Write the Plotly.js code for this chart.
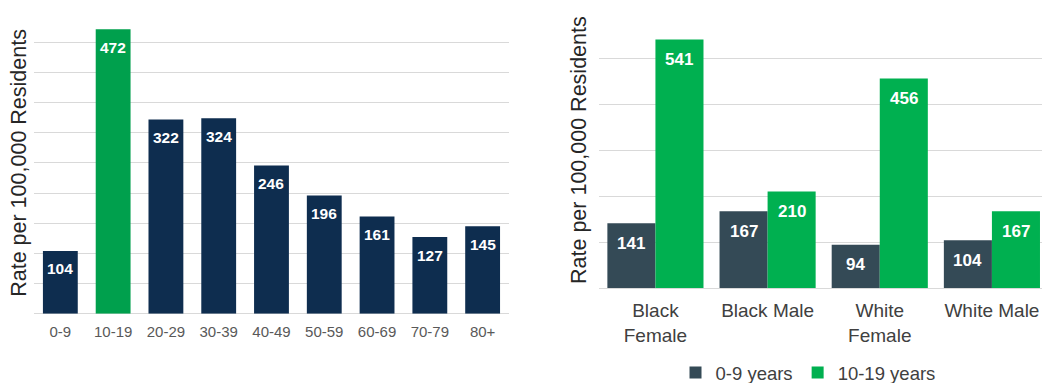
<!DOCTYPE html>
<html>
<head>
<meta charset="utf-8">
<script src="https://cdn.plot.ly/plotly-3.0.1.min.js"></script>
<style>
html, body { margin: 0; padding: 0; overflow: hidden; background: #fff; }
#chart { width: 1048px; height: 383px; }
</style>
</head>
<body>
<div id="chart"></div>
<script>
// Left chart: rate by age group
const ageGroups = ['0-9', '10-19', '20-29', '30-39', '40-49', '50-59', '60-69', '70-79', '80+'];
const ageRates = [104, 472, 322, 324, 246, 196, 161, 127, 145];
const highlightAge = '10-19';

// Right chart: rate by race/sex for two youth age groups
const groups = ['Black<br>Female', 'Black Male', 'White<br>Female', 'White Male'];
const series0to9 = [141, 167, 94, 104];
const series10to19 = [541, 210, 456, 167];
const seriesNames = ['0-9 years', '10-19 years'];

const navy = '#0E2D4F', greenL = '#00A04D';
const slate = '#344A56', greenR = '#00B050';
const font = 'Liberation Sans, Arial, sans-serif';

const leftBarWidth = 0.66;
const rightBargap = 0.143;

const traces = [
  {
    type: 'bar', x: ageGroups, y: ageRates, xaxis: 'x', yaxis: 'y',
    width: leftBarWidth,
    marker: { color: ageGroups.map(g => g === highlightAge ? greenL : navy) },
    showlegend: false, hoverinfo: 'x+y'
  },
  {
    type: 'bar', name: seriesNames[0], x: groups, y: series0to9, xaxis: 'x2', yaxis: 'y2',
    marker: { color: slate }
  },
  {
    type: 'bar', name: seriesNames[1], x: groups, y: series10to19, xaxis: 'x2', yaxis: 'y2',
    marker: { color: greenR }
  }
];

const annotations = [];
ageGroups.forEach((g, i) => {
  annotations.push({
    xref: 'x', yref: 'y', x: g, y: ageRates[i], yanchor: 'middle', yshift: -18,
    text: '<b>' + ageRates[i] + '</b>', showarrow: false,
    font: { family: font, size: 15.5, color: '#ffffff' }
  });
});
const halfW = (1 - rightBargap) / 4;
[series0to9, series10to19].forEach((s, k) => {
  s.forEach((v, i) => {
    annotations.push({
      xref: 'x2', yref: 'y2', x: i + (k === 0 ? -halfW : halfW), y: v,
      yanchor: 'middle', yshift: -20,
      text: '<b>' + v + '</b>', showarrow: false,
      font: { family: font, size: 17, color: '#ffffff' }
    });
  });
});

const layout = {
  width: 1048, height: 383,
  margin: { l: 0, r: 0, t: 0, b: 0, autoexpand: false },
  paper_bgcolor: '#ffffff', plot_bgcolor: '#ffffff',
  font: { family: font, color: '#404040' },
  barmode: 'group',
  bargap: rightBargap,
  xaxis: {
    domain: [0.0324, 0.4857], anchor: 'y', type: 'category',
    tickfont: { family: font, size: 15, color: '#595959' },
    ticklabelstandoff: 7,
    ticks: '', showgrid: false, showline: false
  },
  yaxis: {
    domain: [0.181, 0.968], anchor: 'x', range: [0, 500], dtick: 50,
    showticklabels: false, showgrid: true, gridcolor: '#d9d9d9', gridwidth: 1,
    zeroline: true, zerolinecolor: '#d9d9d9', zerolinewidth: 1,
    title: { text: 'Rate per 100,000 Residents', standoff: 0,
             font: { family: font, size: 21.5, color: '#262626' } }
  },
  xaxis2: {
    domain: [0.5719, 1.0], anchor: 'y2', type: 'category',
    tickfont: { family: font, size: 19, color: '#404040' },
    ticklabelstandoff: 9,
    ticks: '', showgrid: false, showline: false
  },
  yaxis2: {
    domain: [0.248, 0.968], anchor: 'x2', range: [0, 600], dtick: 100,
    showticklabels: false, showgrid: true, gridcolor: '#d9d9d9', gridwidth: 1,
    zeroline: true, zerolinecolor: '#d9d9d9', zerolinewidth: 1,
    title: { text: 'Rate per 100,000 Residents', standoff: 5,
             font: { family: font, size: 21.5, color: '#262626' } }
  },
  legend: {
    orientation: 'h', x: 0.771, xanchor: 'center', y: 0.026, yanchor: 'middle',
    font: { family: font, size: 18.5, color: '#404040' }, itemwidth: 30,
    traceorder: 'normal'
  },
  annotations: annotations
};

Plotly.newPlot('chart', traces, layout, { displayModeBar: false, staticPlot: true });
</script>
</body>
</html>
